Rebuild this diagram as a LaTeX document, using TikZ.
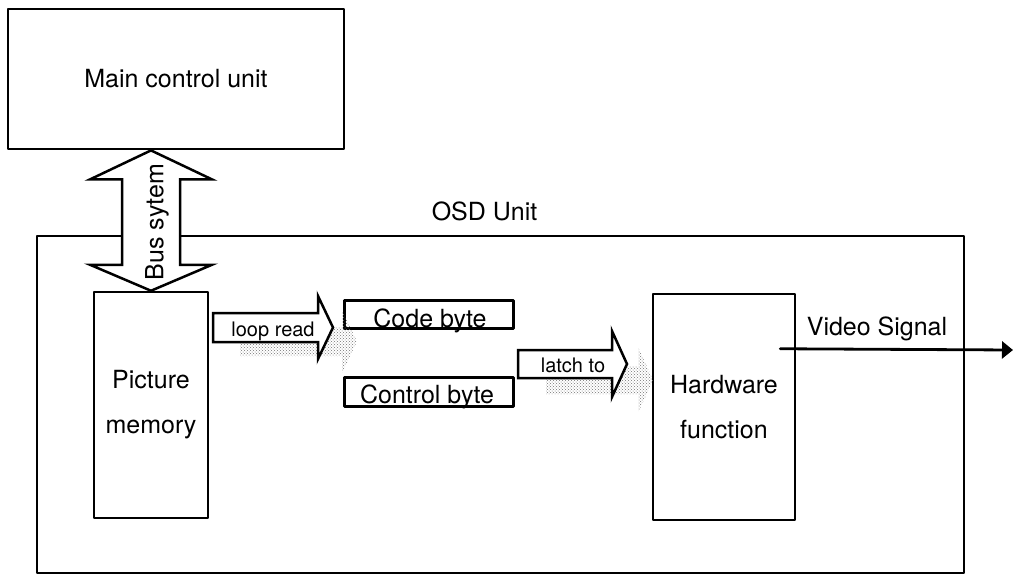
\documentclass[tikz,border=0pt]{standalone}
\usepackage{fontspec}
\setmainfont{TeX Gyre Heros}
\usetikzlibrary{calc,patterns,arrows.meta}

\tikzset{
  box/.style={draw, line width=2.5pt, inner sep=0pt},
  lbl/.style={font=\fontsize{25}{45}\selectfont, align=center},
  smalllbl/.style={font=\fontsize{20}{24}\selectfont},
  blockarrow/.style={draw, line width=2.5pt, fill=white, line join=miter},
  arrowshadow/.style={pattern=crosshatch dots, pattern color=black!55},
  sigline/.style={line width=2.8pt, -{Triangle[length=11pt,width=17pt]}}
}

% flat block arrow: #1 options, #2 start, #3 tip, #4 half shaft, #5 half head
\newcommand{\blockarr}[5]{%
  \path[#1] ($(#2)+(0,-#4)$) -- ($(#3)+(-15,-#4)$) -- ($(#3)+(-15,-#5)$) -- (#3)
    -- ($(#3)+(-15,#5)$) -- ($(#3)+(-15,#4)$) -- ($(#2)+(0,#4)$) -- cycle;}

\begin{document}
\begin{tikzpicture}[x=1pt, y=-1pt, line cap=round, line join=round]
  \useasboundingbox (0,0) rectangle (1013,574);

  % OSD unit frame
  \node[box, line width=2pt, minimum width=927, minimum height=337] (osd) at (500.5,404) {};
  \node[lbl, anchor=base] (osdlbl) at (484.5,220) {OSD Unit};

  % main control unit
  \node[box, line width=2.8pt, minimum width=336, minimum height=140, lbl] (mcu) at (176,79) {Main control unit};

  % blocks inside the OSD unit
  \node[box, minimum width=114, minimum height=226, lbl] (picmem) at (151,405) {Picture\\memory};
  \node[box, minimum width=142, minimum height=226, lbl] (hwfun) at (724,407) {Hardware\\function};
  \node[box, line width=3pt, minimum width=169, minimum height=28] (codeb) at (428.5,314) {};
  \node[lbl, anchor=base] (codetxt) at (430,327) {Code byte};
  \node[box, line width=3pt, minimum width=169, minimum height=29] (ctrlb) at (428.5,391.5) {};
  \node[lbl, anchor=base] (ctrltxt) at (427,403) {Control byte};

  % bus system
  \coordinate (bt) at (picmem.north |- mcu.south);
  \coordinate (bb) at (picmem.north);
  \draw[blockarrow] (bt) -- ($(bt)+(61,29)$) -- ($(bt)+(29,29)$) -- ($(bb)+(29,-26)$)
    -- ($(bb)+(61,-26)$) -- (bb) -- ($(bb)+(-61,-26)$) -- ($(bb)+(-29,-26)$)
    -- ($(bt)+(-29,29)$) -- ($(bt)+(-61,29)$) -- cycle;
  \node[lbl, rotate=90] (bustxt) at (157,222) {Bus sytem};

  % loop read
  \coordinate (lrs) at (213,327.5);
  \coordinate (lre) at (333,327.5);
  \coordinate (lrs2) at ($(lrs)+(27,14)$);
  \coordinate (lre2) at ($(lre)+(24,14)$);
  \blockarr{arrowshadow}{lrs2}{lre2}{14.5}{31.5}
  \blockarr{blockarrow}{lrs}{lre}{14.5}{31.5}
  \node[smalllbl, anchor=base] (lrtxt) at (273,336) {loop read};

  % latch to
  \coordinate (lts) at (518,364);
  \coordinate (lte) at (627,364);
  \coordinate (lts2) at ($(lts)+(28,16)$);
  \coordinate (lte2) at ($(lte)+(26,16)$);
  \blockarr{arrowshadow}{lts2}{lte2}{14}{33}
  \blockarr{blockarrow}{lts}{lte}{14}{33}
  \node[smalllbl, anchor=base] (lttxt) at (573,372) {latch to};

  % video output
  \coordinate (vsig) at (1013,350);
  \draw[sigline] ($(hwfun.north east)+(-16,56)$) -- (vsig);
  \node[lbl, anchor=base] (vsigtxt) at (877,335) {Video Signal};
\end{tikzpicture}
\end{document}
